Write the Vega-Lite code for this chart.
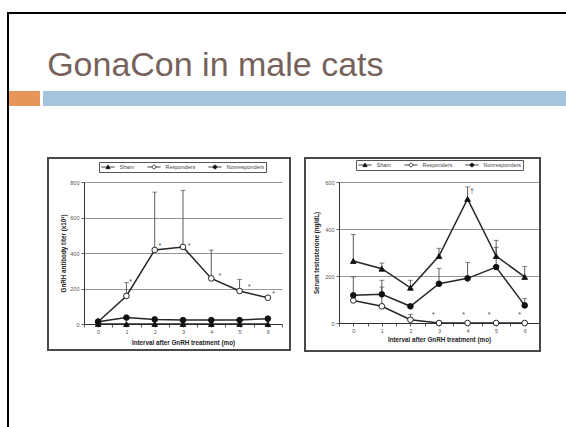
{
  "$schema": "https://vega.github.io/schema/vega-lite/v6.json",
  "background": "white",
  "padding": {"left": 6, "top": 11, "right": 0, "bottom": 0},
  "bounds": "flush",
  "spacing": 76,
  "resolve": {"scale": {"shape": "independent", "fill": "independent"}, "legend": {"shape": "independent", "fill": "independent"}},
  "config": {
    "view": {"stroke": null},
    "font": "Liberation Sans",
    "axis": {
      "labelFont": "Liberation Sans", "titleFont": "Liberation Sans",
      "labelFontSize": 5.5, "titleFontSize": 6.3, "labelColor": "#555", "titleColor": "#222",
      "titleFontWeight": "bold", "domainColor": "#333", "tickColor": "#333",
      "gridColor": "#8a8a8a", "gridWidth": 0.9, "tickSize": 3, "tickWidth": 0.8,
      "labelPadding": 2, "domainWidth": 1, "labelOverlap": false
    },
    "legend": {
      "labelFont": "Liberation Sans", "labelFontSize": 5.5, "labelColor": "#444",
      "symbolSize": 36, "symbolStrokeWidth": 0.8, "symbolStrokeColor": "#111",
      "strokeColor": "#555", "padding": 1.5, "labelOffset": 8, "symbolOffset": 4,
      "columnPadding": 11
    }
  },
  "vconcat": [
    {
      "width": 559, "height": 93,
      "data": {"values": [{"k": 1}]},
      "layer": [
        {
          "mark": {"type": "rect", "color": "black"},
          "encoding": {
            "x": {"datum": -0.179, "type": "quantitative", "scale": {"domain": [0, 100], "nice": false, "zero": false}, "axis": null},
            "x2": {"datum": 100},
            "y": {"datum": 98.92, "type": "quantitative", "scale": {"domain": [0, 100], "nice": false, "zero": false}, "axis": null},
            "y2": {"datum": 101.08}
          }
        },
        {
          "mark": {"type": "rect", "color": "black"},
          "encoding": {
            "x": {"datum": -0.179, "type": "quantitative", "scale": {"domain": [0, 100], "nice": false, "zero": false}, "axis": null},
            "x2": {"datum": 0.179},
            "y": {"datum": -346, "type": "quantitative", "scale": {"domain": [0, 100], "nice": false, "zero": false}, "axis": null},
            "y2": {"datum": 101.08}
          }
        },
        {
          "mark": {"type": "rect", "color": "#E8955A"},
          "encoding": {
            "x": {"datum": 0.18, "type": "quantitative", "scale": {"domain": [0, 100], "nice": false, "zero": false}, "axis": null},
            "x2": {"datum": 5.72},
            "y": {"datum": 0, "type": "quantitative", "scale": {"domain": [0, 100], "nice": false, "zero": false}, "axis": null},
            "y2": {"datum": 16.1}
          }
        },
        {
          "mark": {"type": "rect", "color": "#A5C3DC"},
          "encoding": {
            "x": {"datum": 6.26, "type": "quantitative", "scale": {"domain": [0, 100], "nice": false, "zero": false}, "axis": null},
            "x2": {"datum": 100},
            "y": {"datum": 0, "type": "quantitative", "scale": {"domain": [0, 100], "nice": false, "zero": false}, "axis": null},
            "y2": {"datum": 16.1}
          }
        },
        {
          "mark": {"type": "text", "text": "GonaCon in male cats", "align": "left", "baseline": "alphabetic", "fontSize": 34, "font": "Liberation Sans", "color": "#76625B"},
          "encoding": {
            "x": {"datum": 7.0, "type": "quantitative", "scale": {"domain": [0, 100], "nice": false, "zero": false}, "axis": null},
            "y": {"datum": 31.8, "type": "quantitative", "scale": {"domain": [0, 100], "nice": false, "zero": false}, "axis": null}
          }
        }
      ]
    },
    {
      "bounds": "flush",
      "spacing": 57,
      "resolve": {"scale": {"shape": "independent", "fill": "independent"}, "legend": {"shape": "independent", "fill": "independent"}},
      "hconcat": [
        {
          "width": 19, "height": 142,
          "data": {"values": [{"a": 1}]},
          "mark": {"type": "point", "opacity": 0},
          "encoding": {}
        },
        {
          "width": 198, "height": 142,
          "data": {"values": [
            {"month": 0, "group": "Sham", "value": 0, "upper": null},
            {"month": 1, "group": "Sham", "value": 0, "upper": null},
            {"month": 2, "group": "Sham", "value": 0, "upper": null},
            {"month": 3, "group": "Sham", "value": 0, "upper": null},
            {"month": 4, "group": "Sham", "value": 0, "upper": null},
            {"month": 5, "group": "Sham", "value": 0, "upper": null},
            {"month": 6, "group": "Sham", "value": 0, "upper": null},
            {"month": 0, "group": "Responders", "value": 13, "upper": null},
            {"month": 1, "group": "Responders", "value": 158, "upper": 233},
            {"month": 2, "group": "Responders", "value": 417, "upper": 743},
            {"month": 3, "group": "Responders", "value": 434, "upper": 753},
            {"month": 4, "group": "Responders", "value": 257, "upper": 417},
            {"month": 5, "group": "Responders", "value": 186, "upper": 251},
            {"month": 6, "group": "Responders", "value": 148, "upper": null},
            {"month": 0, "group": "Nonresponders", "value": 13, "upper": null},
            {"month": 1, "group": "Nonresponders", "value": 36, "upper": null},
            {"month": 2, "group": "Nonresponders", "value": 26, "upper": null},
            {"month": 3, "group": "Nonresponders", "value": 22, "upper": null},
            {"month": 4, "group": "Nonresponders", "value": 22, "upper": null},
            {"month": 5, "group": "Nonresponders", "value": 22, "upper": null},
            {"month": 6, "group": "Nonresponders", "value": 30, "upper": null}
          ]},
          "layer": [
            {
              "transform": [{"filter": "datum.upper != null"}],
              "mark": {"type": "rule", "color": "#333", "strokeWidth": 0.8},
              "encoding": {
                "x": {"field": "month", "type": "quantitative", "scale": {"domain": [-0.5, 6.5], "nice": false, "zero": false}},
                "y": {"field": "value", "type": "quantitative", "scale": {"domain": [0, 800], "nice": false, "zero": false}},
                "y2": {"field": "upper"}
              }
            },
            {
              "transform": [{"filter": "datum.upper != null"}],
              "mark": {"type": "tick", "orient": "horizontal", "color": "#333", "thickness": 0.8, "size": 5},
              "encoding": {
                "x": {"field": "month", "type": "quantitative", "scale": {"domain": [-0.5, 6.5], "nice": false, "zero": false}},
                "y": {"field": "upper", "type": "quantitative", "scale": {"domain": [0, 800], "nice": false, "zero": false}}
              }
            },
            {
              "mark": {"type": "line", "color": "#262626", "strokeWidth": 1.5},
              "encoding": {
                "x": {"field": "month", "type": "quantitative", "scale": {"domain": [-0.5, 6.5], "nice": false, "zero": false},
                  "axis": {"values": [-0.5, 0, 0.5, 1, 1.5, 2, 2.5, 3, 3.5, 4, 4.5, 5, 5.5, 6, 6.5], "tickCount": 30, "labelExpr": "datum.value == round(datum.value) ? datum.value : ''", "grid": false, "title": "Interval after GnRH treatment (mo)", "titlePadding": 5}},
                "y": {"field": "value", "type": "quantitative", "scale": {"domain": [0, 800], "nice": false, "zero": false},
                  "axis": {"values": [0, 200, 400, 600, 800], "tickCount": 20, "grid": true, "title": "GnRH antibody titer (x10³)", "titlePadding": 3}},
                "detail": {"field": "group"}
              }
            },
            {
              "mark": {"type": "point", "filled": true, "stroke": "#111", "strokeWidth": 0.9, "opacity": 1, "size": 32},
              "encoding": {
                "x": {"field": "month", "type": "quantitative", "scale": {"domain": [-0.5, 6.5], "nice": false, "zero": false}},
                "y": {"field": "value", "type": "quantitative", "scale": {"domain": [0, 800], "nice": false, "zero": false}},
                "shape": {"condition": {"test": "datum.group === 'Sham'", "value": "triangle-up"}, "value": "circle"},
                "fill": {"condition": {"test": "datum.group === 'Responders'", "value": "white"}, "value": "#111"}
              }
            },
            {
              "transform": [{"filter": "false"}],
              "mark": {"type": "point", "filled": true, "stroke": "#111", "strokeWidth": 0.8, "opacity": 1},
              "encoding": {
                "x": {"field": "month", "type": "quantitative", "scale": {"domain": [-0.5, 6.5], "nice": false, "zero": false}},
                "y": {"field": "value", "type": "quantitative", "scale": {"domain": [0, 800], "nice": false, "zero": false}},
                "shape": {"field": "group", "type": "nominal",
                  "scale": {"domain": ["Sham", "Responders", "Nonresponders"], "range": ["M-2.2,0H2.2M-0.7,0.55L0,-0.65L0.7,0.55Z", "M-2.2,0H-0.6M0.6,0H2.2M-0.6,0A0.6,0.6 0 1,0 0.6,0A0.6,0.6 0 1,0 -0.6,0Z", "M-2.2,0H2.2M-0.6,0A0.6,0.6 0 1,0 0.6,0A0.6,0.6 0 1,0 -0.6,0Z"]},
                  "legend": {"title": null, "orient": "none", "legendX": 15, "legendY": -20, "direction": "horizontal", "columns": 3,
                    "encoding": {"symbols": {"stroke": {"value": "#111"}, "strokeWidth": {"value": 0.8}}}}},
                "fill": {"field": "group", "type": "nominal",
                  "scale": {"domain": ["Sham", "Responders", "Nonresponders"], "range": ["#111", "white", "#111"]},
                  "legend": {"title": null, "orient": "none", "legendX": 15, "legendY": -20, "direction": "horizontal", "columns": 3,
                    "encoding": {"symbols": {"stroke": {"value": "#111"}, "strokeWidth": {"value": 0.8}}}}}
              }
            },
            {
              "data": {"values": [
                {"month": 1.15, "value": 248, "mark": "*"},
                {"month": 2.18, "value": 449, "mark": "*"},
                {"month": 3.22, "value": 452, "mark": "*"},
                {"month": 4.3, "value": 283, "mark": "*"},
                {"month": 5.35, "value": 220, "mark": "*"},
                {"month": 6.2, "value": 182, "mark": "*"}
              ]},
              "mark": {"type": "text", "fontSize": 7, "color": "#444", "baseline": "middle", "dy": 2},
              "encoding": {
                "x": {"field": "month", "type": "quantitative", "scale": {"domain": [-0.5, 6.5], "nice": false, "zero": false}},
                "y": {"field": "value", "type": "quantitative", "scale": {"domain": [0, 800], "nice": false, "zero": false}},
                "text": {"field": "mark"}
              }
            },
            {
              "mark": {"type": "rect", "filled": false, "fill": null, "stroke": "#4a4a4a", "strokeWidth": 1.5},
              "encoding": {
                "x": {"datum": -1.77, "type": "quantitative", "scale": {"domain": [-0.5, 6.5], "nice": false, "zero": false}},
                "x2": {"datum": 6.78},
                "y": {"datum": -146, "type": "quantitative", "scale": {"domain": [0, 800], "nice": false, "zero": false}},
                "y2": {"datum": 935}
              }
            }
          ]
        },
        {
          "width": 200, "height": 141,
          "data": {"values": [
            {"month": 0, "group": "Sham", "value": 264, "upper": 377},
            {"month": 1, "group": "Sham", "value": 231, "upper": 255},
            {"month": 2, "group": "Sham", "value": 150, "upper": 182},
            {"month": 3, "group": "Sham", "value": 285, "upper": 318},
            {"month": 4, "group": "Sham", "value": 528, "upper": 579},
            {"month": 5, "group": "Sham", "value": 285, "upper": 352},
            {"month": 6, "group": "Sham", "value": 196, "upper": 241},
            {"month": 0, "group": "Responders", "value": 96, "upper": null},
            {"month": 1, "group": "Responders", "value": 71, "upper": 153},
            {"month": 2, "group": "Responders", "value": 14, "upper": 37},
            {"month": 3, "group": "Responders", "value": 0, "upper": null},
            {"month": 4, "group": "Responders", "value": 0, "upper": null},
            {"month": 5, "group": "Responders", "value": 0, "upper": null},
            {"month": 6, "group": "Responders", "value": 0, "upper": null},
            {"month": 0, "group": "Nonresponders", "value": 118, "upper": 196},
            {"month": 1, "group": "Nonresponders", "value": 122, "upper": 182},
            {"month": 2, "group": "Nonresponders", "value": 71, "upper": null},
            {"month": 3, "group": "Nonresponders", "value": 167, "upper": 233},
            {"month": 4, "group": "Nonresponders", "value": 190, "upper": 257},
            {"month": 5, "group": "Nonresponders", "value": 238, "upper": 322},
            {"month": 6, "group": "Nonresponders", "value": 75, "upper": 104}
          ]},
          "layer": [
            {
              "transform": [{"filter": "datum.upper != null"}],
              "mark": {"type": "rule", "color": "#333", "strokeWidth": 0.8},
              "encoding": {
                "x": {"field": "month", "type": "quantitative", "scale": {"domain": [-0.5, 6.5], "nice": false, "zero": false}},
                "y": {"field": "value", "type": "quantitative", "scale": {"domain": [0, 600], "nice": false, "zero": false}},
                "y2": {"field": "upper"}
              }
            },
            {
              "transform": [{"filter": "datum.upper != null"}],
              "mark": {"type": "tick", "orient": "horizontal", "color": "#333", "thickness": 0.8, "size": 5},
              "encoding": {
                "x": {"field": "month", "type": "quantitative", "scale": {"domain": [-0.5, 6.5], "nice": false, "zero": false}},
                "y": {"field": "upper", "type": "quantitative", "scale": {"domain": [0, 600], "nice": false, "zero": false}}
              }
            },
            {
              "mark": {"type": "line", "color": "#262626", "strokeWidth": 1.5},
              "encoding": {
                "x": {"field": "month", "type": "quantitative", "scale": {"domain": [-0.5, 6.5], "nice": false, "zero": false},
                  "axis": {"values": [-0.5, 0, 0.5, 1, 1.5, 2, 2.5, 3, 3.5, 4, 4.5, 5, 5.5, 6, 6.5], "tickCount": 30, "labelExpr": "datum.value == round(datum.value) ? datum.value : ''", "grid": false, "title": "Interval after GnRH treatment (mo)", "titlePadding": 3}},
                "y": {"field": "value", "type": "quantitative", "scale": {"domain": [0, 600], "nice": false, "zero": false},
                  "axis": {"values": [0, 200, 400, 600], "tickCount": 20, "grid": true, "title": "Serum testosterone (ng/dL)", "titlePadding": 5}},
                "detail": {"field": "group"}
              }
            },
            {
              "mark": {"type": "point", "filled": true, "stroke": "#111", "strokeWidth": 0.9, "opacity": 1, "size": 32},
              "encoding": {
                "x": {"field": "month", "type": "quantitative", "scale": {"domain": [-0.5, 6.5], "nice": false, "zero": false}},
                "y": {"field": "value", "type": "quantitative", "scale": {"domain": [0, 600], "nice": false, "zero": false}},
                "shape": {"condition": {"test": "datum.group === 'Sham'", "value": "triangle-up"}, "value": "circle"},
                "fill": {"condition": {"test": "datum.group === 'Responders'", "value": "white"}, "value": "#111"}
              }
            },
            {
              "transform": [{"filter": "false"}],
              "mark": {"type": "point", "filled": true, "stroke": "#111", "strokeWidth": 0.8, "opacity": 1},
              "encoding": {
                "x": {"field": "month", "type": "quantitative", "scale": {"domain": [-0.5, 6.5], "nice": false, "zero": false}},
                "y": {"field": "value", "type": "quantitative", "scale": {"domain": [0, 600], "nice": false, "zero": false}},
                "shape": {"field": "group", "type": "nominal",
                  "scale": {"domain": ["Sham", "Responders", "Nonresponders"], "range": ["M-2.2,0H2.2M-0.7,0.55L0,-0.65L0.7,0.55Z", "M-2.2,0H-0.6M0.6,0H2.2M-0.6,0A0.6,0.6 0 1,0 0.6,0A0.6,0.6 0 1,0 -0.6,0Z", "M-2.2,0H2.2M-0.6,0A0.6,0.6 0 1,0 0.6,0A0.6,0.6 0 1,0 -0.6,0Z"]},
                  "legend": {"title": null, "orient": "none", "legendX": 17, "legendY": -22, "direction": "horizontal", "columns": 3,
                    "encoding": {"symbols": {"stroke": {"value": "#111"}, "strokeWidth": {"value": 0.8}}}}},
                "fill": {"field": "group", "type": "nominal",
                  "scale": {"domain": ["Sham", "Responders", "Nonresponders"], "range": ["#111", "white", "#111"]},
                  "legend": {"title": null, "orient": "none", "legendX": 17, "legendY": -22, "direction": "horizontal", "columns": 3,
                    "encoding": {"symbols": {"stroke": {"value": "#111"}, "strokeWidth": {"value": 0.8}}}}}
              }
            },
            {
              "data": {"values": [
                {"month": 2.8, "value": 38, "mark": "*"},
                {"month": 3.86, "value": 38, "mark": "*"},
                {"month": 4.75, "value": 38, "mark": "*"},
                {"month": 5.82, "value": 38, "mark": "*"},
                {"month": 4.15, "value": 566, "mark": "†"}
              ]},
              "mark": {"type": "text", "fontSize": 7, "color": "#444", "baseline": "middle", "dy": 1},
              "encoding": {
                "x": {"field": "month", "type": "quantitative", "scale": {"domain": [-0.5, 6.5], "nice": false, "zero": false}},
                "y": {"field": "value", "type": "quantitative", "scale": {"domain": [0, 600], "nice": false, "zero": false}},
                "text": {"field": "mark"}
              }
            },
            {
              "mark": {"type": "rect", "filled": false, "fill": null, "stroke": "#4a4a4a", "strokeWidth": 1.5},
              "encoding": {
                "x": {"datum": -1.69, "type": "quantitative", "scale": {"domain": [-0.5, 6.5], "nice": false, "zero": false}},
                "x2": {"datum": 6.535},
                "y": {"datum": -119, "type": "quantitative", "scale": {"domain": [0, 600], "nice": false, "zero": false}},
                "y2": {"datum": 702}
              }
            }
          ]
        }
      ]
    }
  ]
}
